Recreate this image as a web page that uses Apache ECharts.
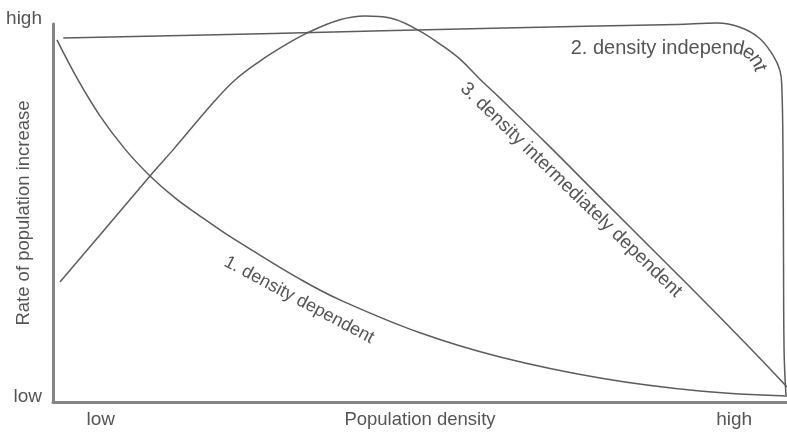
<!DOCTYPE html>
<html><head><meta charset="utf-8">
<script src="https://cdn.jsdelivr.net/npm/echarts@6/dist/echarts.min.js"></script>
<style>html,body{margin:0;padding:0;background:#fff}#c{width:787px;height:434px}</style>
</head><body><div id="c"></div>
<script>
// ---- tick labels / titles ----
const xTickValues = [6.5, 92.8];
const xTickLabels = ['low', 'high'];
const yTickValues = [0, 100];
const yTickLabels = ['low', 'high'];
const xAxisTitle = 'Population density';
const yAxisTitle = 'Rate of population increase';
const seriesNames = ['1. density dependent', '2. density independent', '3. density intermediately dependent'];

// ---- series values [density, rate] (0-100 scale) ----
const densityDependent = [
  [0.54, 95.8], [3.41, 85.2], [6.40, 75.7], [9.81, 66.9], [13.22, 59.8], [16.62, 54.0],
  [20.03, 49.2], [23.0, 45.2], [26.16, 41.3], [33.65, 32.5], [39.10, 27.0], [50.00, 18.3],
  [60.90, 11.9], [74.52, 6.35], [88.15, 2.9], [100, 1.6]
];
const densityIndependent = [
  [1.4, 96.3], [30, 97.5], [60, 98.9], [85, 99.9], [90.5, 100.25], [93.5, 99.2], [96.2, 96.3],
  [98.1, 91.7], [99.05, 87.6], [99.3, 83.1], [99.45, 66.7], [99.52, 40.2], [99.6, 13.8], [99.86, 1.85]
];
const densityIntermediate = [
  [0.95, 31.75], [6.40, 44.2], [13.22, 59.8], [16.35, 66.7], [21.93, 79.4], [24.80, 85.2],
  [28.20, 90.2], [31.61, 94.4], [34.60, 97.6], [39.10, 101.1], [42.51, 102.1], [45.91, 101.6],
  [49.73, 98.4], [52.72, 94.7], [55.45, 90.7], [58.17, 85.4], [60.90, 80.4], [67.71, 67.5],
  [74.52, 54.2], [81.34, 41.0], [88.15, 27.8], [94.96, 14.3], [100, 4.0]
];

const FONT = '"Liberation Sans",Arial,sans-serif';
const TEXT = '#555555';
const LINE = '#5c5c5c';
const AXIS = '#858585';

const chart = echarts.init(document.getElementById('c'), null, {renderer: 'canvas'});

function lineSeries(name, data) {
  return {
    name, type: 'line', data, showSymbol: false, clip: false,
    smooth: 0.4,
    lineStyle: {color: LINE, width: 1.5}, silent: true
  };
}

// curved label for series 2
const ctx = document.createElement('canvas').getContext('2d');
const font2 = '20px ' + FONT;
ctx.font = font2;
const graphics = [];
const lab2 = seriesNames[1];
const straightPart = lab2.slice(0, lab2.length - 4);
const curvedPart = lab2.slice(lab2.length - 4);
const arcCx = 733, arcCy = 76, arcR = 28;
graphics.push({type: 'text', x: arcCx, y: arcCy - arcR, style: {text: straightPart, font: font2, fill: TEXT, align: 'right', verticalAlign: 'middle'}});
let s = 0;
for (const ch of curvedPart) {
  const w = ctx.measureText(ch).width;
  const a = (s + w / 2) / arcR;
  s += w;
  graphics.push({type: 'text', x: arcCx + arcR * Math.sin(a), y: arcCy - arcR * Math.cos(a), rotation: -a,
    style: {text: ch, font: font2, fill: TEXT, align: 'center', verticalAlign: 'middle'}});
}
graphics.push({type: 'text', x: 299, y: 300, rotation: -28 * Math.PI / 180,
  style: {text: seriesNames[0], font: '18px ' + FONT, fill: TEXT, align: 'center', verticalAlign: 'middle'}});
graphics.push({type: 'text', x: 571, y: 190, rotation: -44 * Math.PI / 180,
  style: {text: seriesNames[2], font: '19px ' + FONT, fill: TEXT, align: 'center', verticalAlign: 'middle'}});

chart.setOption({
  animation: false,
  backgroundColor: '#ffffff',
  grid: {left: 53, right: 0, top: 24, bottom: 32, outerBoundsMode: 'none'},
  xAxis: {
    type: 'value', min: 0, max: 100,
    axisLine: {show: true, lineStyle: {color: AXIS, width: 3}},
    axisTick: {show: false}, splitLine: {show: false},
    axisLabel: {customValues: xTickValues, margin: 8, color: TEXT, fontSize: 19, fontFamily: FONT,
      formatter: v => xTickLabels[xTickValues.indexOf(v)] || ''},
    name: xAxisTitle, nameLocation: 'middle', nameGap: 8, nameMoveOverlap: false,
    nameTextStyle: {color: TEXT, fontSize: 18.5, fontFamily: FONT, verticalAlign: 'top'}
  },
  yAxis: {
    type: 'value', min: 0, max: 100,
    axisLine: {show: true, lineStyle: {color: AXIS, width: 3}},
    axisTick: {show: false}, splitLine: {show: false},
    axisLabel: {customValues: yTickValues, margin: 11, color: TEXT, fontSize: 19, fontFamily: FONT,
      verticalAlign: 'bottom', lineHeight: 11,
      formatter: v => yTickLabels[yTickValues.indexOf(v)] || ''},
    name: yAxisTitle, nameLocation: 'middle', nameGap: 20, nameMoveOverlap: false,
    nameTextStyle: {color: TEXT, fontSize: 18.5, fontFamily: FONT}
  },
  graphic: graphics,
  series: [
    lineSeries(seriesNames[0], densityDependent),
    lineSeries(seriesNames[1], densityIndependent),
    lineSeries(seriesNames[2], densityIntermediate)
  ]
});
</script></body></html>
